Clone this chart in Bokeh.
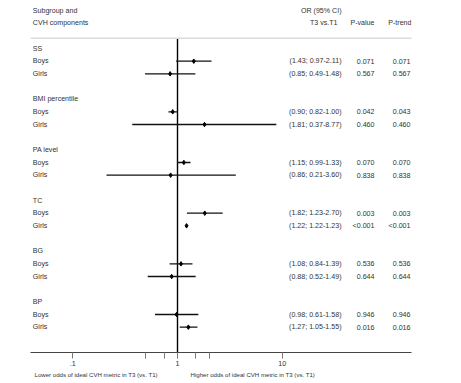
from bokeh.plotting import figure
from bokeh.layouts import column
from bokeh.models import (ColumnDataSource, LabelSet, Label, Span, Range1d,
                          FixedTicker, CustomJSTickFormatter)
from bokeh.core.properties import value
from bokeh.embed import file_html
from bokeh.resources import INLINE

# ---- data ----
components = ["SS", "BMI percentile", "PA level", "TC", "BG", "BP"]
subgroups = ["Boys", "Girls"]
odds_ratio = [1.43, 0.85, 0.90, 1.81, 1.15, 0.86, 1.82, 1.22, 1.08, 0.88, 0.98, 1.27]
ci_low = [0.97, 0.49, 0.82, 0.37, 0.99, 0.21, 1.23, 1.22, 0.84, 0.52, 0.61, 1.05]
ci_high = [2.11, 1.48, 1.00, 8.77, 1.33, 3.60, 2.70, 1.23, 1.39, 1.49, 1.58, 1.55]
p_value = ["0.071", "0.567", "0.042", "0.460", "0.070", "0.838",
           "0.003", "<0.001", "0.536", "0.644", "0.946", "0.016"]
p_trend = ["0.071", "0.567", "0.043", "0.460", "0.070", "0.838",
           "0.003", "<0.001", "0.536", "0.644", "0.946", "0.016"]
axis_ticks = [0.1, 0.5, 0.75, 1, 1.5, 2, 10]
axis_tick_labels = {0.1: ".1", 1: "1", 10: "10"}
axis_titles = ["Lower odds of ideal CVH metric in T3 (vs. T1)",
               "Higher odds of ideal CVH metric in T3 (vs. T1)"]

# ---- row layout (row units, top to bottom) ----
row_y, row_label, ci_text = [], [], []
head_y, head_label = [], []
for gi, comp in enumerate(components):
    base = gi * 4
    head_y.append(base)
    head_label.append(comp)
    for si, sg in enumerate(subgroups):
        k = gi * 2 + si
        row_y.append(base + 1 + si)
        row_label.append(sg)
        ci_text.append("(%.2f; %.2f-%.2f)" % (odds_ratio[k], ci_low[k], ci_high[k]))

data = ColumnDataSource(dict(y=row_y, label=row_label, orr=odds_ratio, lo=ci_low,
                             hi=ci_high, ci=ci_text, pv=p_value, pt=p_trend))
heads = ColumnDataSource(dict(y=head_y, label=head_label))

FONT = "Liberation Sans"
FS = "7.1px"
FS_CAP = "6.1px"
TXT = "#333333"

W = 445
BL, BR = 30, 34
p = figure(width=W, height=368, x_axis_type="log", y_axis_type=None,
           output_backend="svg", toolbar_location=None,
           x_range=Range1d(10 ** -1.4027, 10 ** 2.2328),
           y_range=Range1d(24, -3.79),
           min_border_left=BL, min_border_right=BR,
           min_border_top=0, min_border_bottom=16)
p.outline_line_color = None
p.grid.visible = False

# separator under header
p.add_layout(Span(location=-0.8, dimension="width", line_color="#dcdcdc", line_width=1.5))
# reference line at OR = 1
p.segment(x0=[1], x1=[1], y0=[-0.8], y1=[24], line_color="black", line_width=1.4)

# CIs and point estimates
p.segment(x0="lo", x1="hi", y0="y", y1="y", source=data, line_color="#111111", line_width=1.4)
p.scatter(x="orr", y="y", source=data, marker="diamond", size=4.5,
          fill_color="black", line_color="black")

def col(source, field, x, align):
    p.add_layout(LabelSet(x=x, y="y", x_units="screen", text=field, source=source,
                          text_font=value(FONT), text_font_size=value(FS),
                          text_color=TXT, text_align=align, text_baseline="middle"))

col(heads, "label", 2.3, "left")
col(data, "label", 2.3, "left")
col(data, "ci", 311, "right")
col(data, "pv", 344, "right")
col(data, "pt", 380, "right")

def lab(text, x, y, align):
    p.add_layout(Label(x=x, y=y, x_units="screen", text=text,
                       text_font=FONT, text_font_size=FS, text_color=TXT,
                       text_align=align, text_baseline="middle"))

lab("Subgroup and", 2.3, -3, "left")
lab("CVH components", 2.3, -2, "left")
lab("OR (95% CI)", 311, -3, "right")
lab("T3 vs.T1", 307, -2, "right")
lab("P-value", 344, -2, "right")
lab("P-trend", 381, -2, "right")

# x axis
ax = p.xaxis[0]
ax.ticker = FixedTicker(ticks=axis_ticks, minor_ticks=[])
ax.formatter = CustomJSTickFormatter(
    args=dict(labels={str(k): v for k, v in axis_tick_labels.items()}),
    code="""
    const key = String(tick);
    return (key in labels) ? labels[key] : "";
    """)
ax.axis_line_color = "#444444"
ax.axis_line_width = 1.2
ax.major_tick_line_color = "#777777"
ax.major_tick_in = 0
ax.major_tick_out = 6
ax.minor_tick_line_color = None
ax.major_label_standoff = 2
ax.major_label_text_font = FONT
ax.major_label_text_font_size = FS
ax.major_label_text_color = TXT

# strip below with the two axis captions (frame aligned with the main plot)
p2 = figure(width=W, height=13, x_range=Range1d(BL, W - BR), y_range=Range1d(0, 13),
            output_backend="svg", toolbar_location=None,
            x_axis_type=None, y_axis_type=None,
            min_border_left=BL, min_border_right=BR, min_border_top=0, min_border_bottom=0)
p2.outline_line_color = None
p2.grid.visible = False
p2.text(x=[34, 190], y=[7, 7], text=axis_titles, text_font=value(FONT),
        text_font_size=FS_CAP, text_color=TXT, text_align="left", text_baseline="middle")

open("out.html", "w").write(file_html(column(p, p2), INLINE))
